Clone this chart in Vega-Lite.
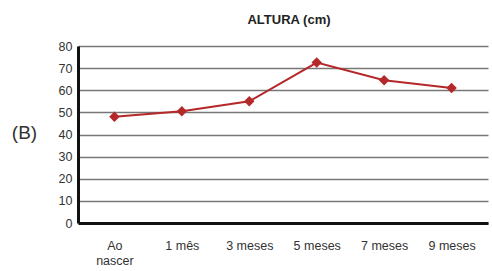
{
  "$schema": "https://vega.github.io/schema/vega-lite/v6.json",
  "width": 410,
  "height": 177,
  "autosize": "none",
  "padding": {"left": 78, "top": 46, "right": 4, "bottom": 48},
  "background": "white",
  "title": {"text": "ALTURA (cm)", "font": "Liberation Sans", "fontSize": 13, "fontWeight": "bold", "color": "#222", "offset": 13, "anchor": "middle", "dx": 6},
  "data": {"values": [
    {"idade": "Ao nascer", "altura": 48},
    {"idade": "1 mês", "altura": 50.5},
    {"idade": "3 meses", "altura": 55},
    {"idade": "5 meses", "altura": 72.5},
    {"idade": "7 meses", "altura": 64.5},
    {"idade": "9 meses", "altura": 61}
  ]},
  "config": {"view": {"stroke": null}},
  "encoding": {
    "x": {"field": "idade", "type": "ordinal", "sort": null,
      "scale": {"type": "point", "padding": 0.54},
      "axis": {"title": null, "labelAngle": 0, "domainColor": "#111", "domainWidth": 3, "ticks": false, "grid": false,
        "labelFont": "Liberation Sans", "labelFontSize": 12.5, "labelColor": "#333", "labelPadding": 16,
        "labelExpr": "datum.value == 'Ao nascer' ? ['Ao', 'nascer'] : datum.value", "labelLineHeight": 15}},
    "y": {"field": "altura", "type": "quantitative",
      "scale": {"domain": [0, 80], "nice": false},
      "axis": {"values": [0,10,20,30,40,50,60,70,80], "title": "(B)", "titleAngle": 0, "titleFont": "Liberation Sans", "titleFontSize": 19, "titleFontWeight": "normal", "titleColor": "#333", "titleX": -54, "titleY": 96, "titleAlign": "center",
        "domainColor": "#111", "domainWidth": 3, "ticks": false, "gridColor": "#777", "gridWidth": 1.5,
        "labelFont": "Liberation Sans", "labelFontSize": 12.5, "labelColor": "#333", "labelPadding": 6}}
  },
  "layer": [
    {"mark": {"type": "line", "color": "#b5282a", "strokeWidth": 2}},
    {"mark": {"type": "point", "shape": "diamond", "filled": true, "color": "#b5282a", "size": 110, "opacity": 1}}
  ]
}
